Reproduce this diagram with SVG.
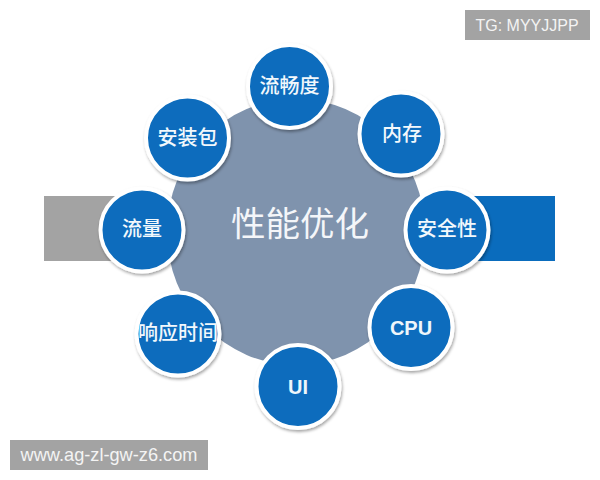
<svg xmlns="http://www.w3.org/2000/svg" width="600" height="480" viewBox="0 0 600 480">
<style>
.n{fill:#0a6cbd;stroke:#fff;stroke-width:4;filter:url(#s)}
.c{font-family:"Noto Sans CJK SC","Liberation Sans",sans-serif;fill:#f2f8fc;text-anchor:middle;font-size:20px;font-weight:500}
.l{font-family:"Liberation Sans",sans-serif;font-weight:700;fill:#eef6fb;text-anchor:middle;font-size:20px}
.w{font-family:"Liberation Sans",sans-serif;fill:#f4f4f4;text-anchor:middle}
</style>
<defs><filter id="s" x="-20%" y="-20%" width="140%" height="140%"><feDropShadow dx="1" dy="2" stdDeviation="1.6" flood-color="#000" flood-opacity="0.35"/></filter></defs>
<rect width="600" height="480" fill="#fff"/>
<g id="band-left"><rect x="44" y="196" width="90" height="65" fill="#a3a3a3"/></g>
<g id="band-right"><rect x="470" y="196" width="85" height="65" fill="#0a6cbd"/></g>
<g id="center"><ellipse cx="296" cy="232" rx="129" ry="133" fill="#7f93ad"/><text x="300" y="236" font-family="'Noto Sans CJK SC',sans-serif" font-size="34.500" fill="#f4f6f9" text-anchor="middle">性能优化</text></g>
<g id="connectors"></g>
<g id="n1"><circle class="n" cx="289.500" cy="86.500" r="41.500"/><text class="c" x="289.500" y="93">流畅度</text></g>
<g id="n2"><circle class="n" cx="187.500" cy="138" r="41.500"/><text class="c" x="187.500" y="144.500">安装包</text></g>
<g id="n3"><circle class="n" cx="401" cy="134" r="41.500"/><text class="c" x="402" y="141">内存</text></g>
<g id="n4"><circle class="n" cx="142" cy="230" r="41.500"/><text class="c" x="142" y="236">流量</text></g>
<g id="n5"><circle class="n" cx="447" cy="230" r="41.500"/><text class="c" x="447" y="236">安全性</text></g>
<g id="n6"><circle class="n" cx="178" cy="334" r="41.500"/><text class="c" x="178" y="340" font-size="20.500">响应时间</text></g>
<g id="n7"><circle class="n" cx="411" cy="327.500" r="41.500"/><text class="l" x="411" y="335">CPU</text></g>
<g id="n8"><circle class="n" cx="298" cy="386.500" r="41.500"/><text class="l" x="298" y="394">UI</text></g>
<g id="tag-top"><rect x="465" y="10" width="125" height="30" fill="#a3a3a3"/><text class="w" x="527" y="30.500" font-size="16">TG: MYYJJPP</text></g>
<g id="tag-bottom"><rect x="10" y="440" width="198" height="30" fill="#a3a3a3"/><text class="w" x="109" y="461" font-size="18.200">www.ag-zl-gw-z6.com</text></g>
</svg>
